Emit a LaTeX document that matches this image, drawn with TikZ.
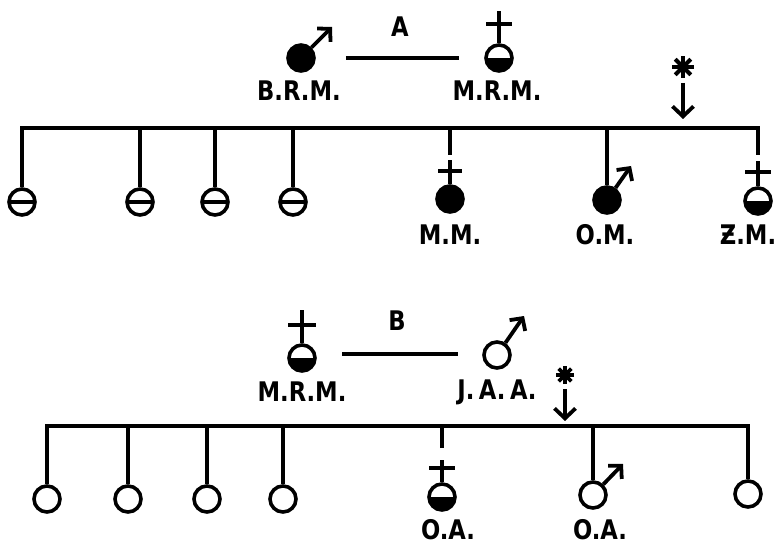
\documentclass[tikz,border=0pt]{standalone}
\usepackage{fontspec}
\newfontfamily\labfont{DejaVu Sans}[FakeStretch=0.84]
\usetikzlibrary{arrows.meta}
\begin{document}
\begin{tikzpicture}[x=1pt,y=-1pt,
  lw/.style={line width=3.8pt},
  pers/.style={circle,draw,line width=3.6pt,minimum size=26pt,inner sep=0pt,fill=white},
  fullp/.style={pers,fill=black},
  halfp/.style={pers,path picture={\fill[black] (path picture bounding box.west) rectangle (path picture bounding box.south east);}},
  minusp/.style={pers,path picture={\draw[line width=3.6pt] (path picture bounding box.west) -- (path picture bounding box.east);}},
  lab/.style={font=\labfont\bfseries\fontsize{27}{27}\selectfont, inner sep=0pt},
  famline/.style={line width=4.4pt, line join=miter},
  marry/.style={line width=4pt},
  malearrow/.style={lw,-{Straight Barb[length=9pt,width=19pt]}},
  downarrow/.style={lw,-{Straight Barb[length=10pt,width=21pt]}},
]
\useasboundingbox (0,0) rectangle (779,548);
\fill[white] (0,0) rectangle (779,548);

% ---------------- A ----------------
\node[fullp] (brm) at (301,58) {};
\coordinate (brmtip) at (332,27);
\draw[malearrow] (brm) -- (brmtip);
\node[halfp] (mrmA) at (499,58) {};
\draw[lw] (mrmA.north) -- ++(0,-32);
\draw[lw] (mrmA.north) ++(-13,-19) -- ++(26,0);
\draw[marry, shorten <=30pt, shorten >=25pt] (brm) -- (mrmA);
\node[lab] (labA) at (400,27) {A};
\node[lab] (lbrm) at (299,91) {B.R.M.};
\node[lab] (lmrmA) at (497,91) {M.R.M.};

% asterisk A
\coordinate (astA) at (683,67);
\foreach \a in {0,45,90,135} \draw[line width=4pt] (astA) +(\a:11) -- +(\a+180:11);
\fill (astA) circle (5pt);
\coordinate (astAend) at (683,119);
\draw[downarrow] (astA) ++(0,16) -- (astAend);

% children A
\node[minusp] (cA1) at (22,202) {};
\node[minusp] (cA2) at (140,202) {};
\node[minusp] (cA3) at (215,202) {};
\node[minusp] (cA4) at (293,202) {};
\node[fullp] (mm) at (450,199) {};
\node[fullp] (om) at (607,200) {};
\node[halfp] (zm) at (758,201) {};

\coordinate (barAL) at (22,128);
\coordinate (barAR) at (758,128);
\coordinate (zmstem) at (758,155);
\draw[famline] (cA1.north) -- (barAL) -- (barAR) -- (zmstem);
\foreach \n in {cA2,cA3,cA4,om} \draw[lw] (\n.north) -- (\n.north |- barAL);
\coordinate (mmstem) at (450,155);
\draw[lw] (mmstem) -- (mmstem |- barAL);
% crosses
\draw[lw] (mm.north) -- ++(0,-24);
\draw[lw] (mm.north) ++(-12,-13) -- ++(24,0);
\draw[lw] (zm.north) -- ++(0,-25);
\draw[lw] (zm.north) ++(-13,-14) -- ++(26,0);
\coordinate (omtip) at (631,166);
\draw[malearrow] (om) -- (omtip);

\node[lab] (lmm) at (450,235) {M.M.};
\node[lab] (lom) at (605,235) {O.M.};
\node[lab] (lzm) at (748,235) {Ƶ.M.};

% ---------------- B ----------------
\node[halfp] (mrmB) at (302,358) {};
\draw[lw] (mrmB.north) -- ++(0,-33);
\draw[lw] (mrmB.north) ++(-14,-18) -- ++(28,0);
\node[pers] (jaa) at (497,355) {};
\coordinate (jaatip) at (524,316);
\draw[malearrow] (jaa) -- (jaatip);
\coordinate (mB1) at (342,354);
\coordinate (mB2) at (458,354);
\draw[marry] (mB1) -- (mB2);
\node[lab] (labB) at (397,321) {B};
\node[lab] (lmrmB) at (302,392) {M.R.M.};
\node[lab] (ljaa) at (497,392) {J.\,A.\,A.};

% asterisk B
\coordinate (astB) at (565,375);
\foreach \a in {0,45,90,135} \draw[line width=3.6pt] (astB) +(\a:9) -- +(\a+180:9);
\fill (astB) circle (4pt);
\coordinate (astBend) at (565,421);
\draw[downarrow] (astB) ++(0,14) -- (astBend);

% children B
\node[pers] (cB1) at (47,499) {};
\node[pers] (cB2) at (128,499) {};
\node[pers] (cB3) at (207,499) {};
\node[pers] (cB4) at (283,499) {};
\node[halfp] (oaf) at (442,497) {};
\node[pers] (oam) at (593,495) {};
\node[pers] (cB7) at (748,494) {};

\coordinate (barBL) at (47,426);
\coordinate (barBR) at (748,426);
\draw[famline] (cB1.north) -- (barBL) -- (barBR) -- (cB7.north);
\foreach \n in {cB2,cB3,cB4,oam} \draw[lw] (\n.north) -- (\n.north |- barBL);
\coordinate (oafstem) at (442,448);
\draw[lw] (oafstem) -- (oafstem |- barBL);
\draw[lw] (oaf.north) -- ++(0,-22);
\draw[lw] (oaf.north) ++(-13,-14) -- ++(26,0);
\coordinate (oamtip) at (623,464);
\draw[malearrow] (oam) -- (oamtip);

\node[lab] (loa1) at (448,530) {O.A.};
\node[lab] (loa2) at (600,530) {O.A.};
\end{tikzpicture}
\end{document}
